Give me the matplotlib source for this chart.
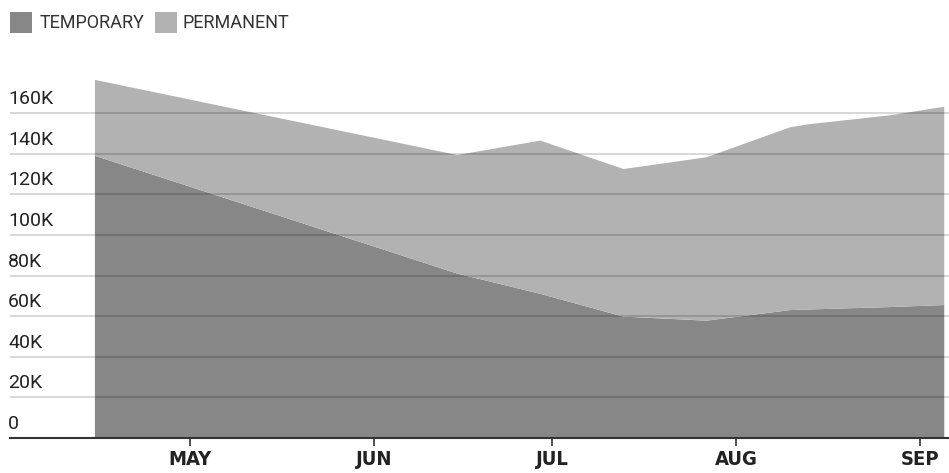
import matplotlib
matplotlib.use("Agg")
import matplotlib.pyplot as plt
import matplotlib.dates as mdates
import matplotlib.transforms as mtransforms
from matplotlib.patches import Rectangle
import numpy as np

# dates of the data points
dates = ["2020-04-15", "2020-06-15", "2020-06-29", "2020-07-13", "2020-07-27",
         "2020-08-10", "2020-08-13", "2020-08-27", "2020-09-05"]
# temporary layoffs
temporary = [139000, 81000, 71000, 59800, 57800, 63000, 63300, 64500, 65500]
# permanent layoffs (stacked on top of temporary)
permanent = [37400, 58400, 75500, 72700, 80500, 90000, 91200, 94500, 97700]

series_names = ["TEMPORARY", "PERMANENT"]
colors = ["#878787", "#b2b2b2"]

yticks = [0, 20000, 40000, 60000, 80000, 100000, 120000, 140000, 160000]
ytick_labels = ["0", "20K", "40K", "60K", "80K", "100K", "120K", "140K", "160K"]
month_ticks = ["2020-05-01", "2020-06-01", "2020-07-01", "2020-08-01", "2020-09-01"]
month_labels = ["MAY", "JUN", "JUL", "AUG", "SEP"]

x = mdates.datestr2num(dates)

W, H = 949, 473
fig = plt.figure(figsize=(W / 100, H / 100), dpi=100)
ax = fig.add_axes([10 / W, 35 / H, 939 / W, 378 / H])

ax.stackplot(x, temporary, permanent, colors=colors, linewidth=0, zorder=1)

# grid lines sit on top of the areas
for v in yticks[1:]:
    ax.axhline(v, color="black", alpha=0.17, linewidth=1.3, zorder=3)

ax.set_ylim(0, 186200)
ax.set_yticks([])
x0 = mdates.datestr2num("2020-05-01")
ax.set_xlim(x0 - 30.3, x0 + 127.8)

ax.set_xticks(mdates.datestr2num(month_ticks))
ax.set_xticklabels(month_labels, family="DejaVu Sans", fontstretch="condensed",
                   fontweight="bold", fontsize=14.5, color="#222222")
ax.tick_params(axis="x", length=6, width=1.2, color="#333333", pad=2.5)

for s in ["top", "right", "left"]:
    ax.spines[s].set_visible(False)
ax.spines["bottom"].set_color("#333333")
ax.spines["bottom"].set_linewidth(1.5)
ax.spines["bottom"].set_zorder(4)

# y labels sit just above their grid lines, at the left edge
trans = mtransforms.offset_copy(ax.get_yaxis_transform(), fig=fig, x=-2, y=5, units="dots")
for v, lab in zip(yticks, ytick_labels):
    ax.text(0, v, lab, transform=trans, ha="left", va="bottom",
            fontsize=14, family="Roboto", color="#222222")

# legend: squares and labels across the top
leg_x = [10, 155]
leg_text_x = [40, 183]
for lx, tx, c, name in zip(leg_x, leg_text_x, colors, series_names):
    fig.patches.append(Rectangle((lx / W, 1 - 33 / H), 22 / W, 21 / H,
                                 transform=fig.transFigure, facecolor=c,
                                 edgecolor="none"))
    fig.text(tx / W, 1 - 22.5 / H, name, ha="left", va="center",
             fontsize=13, family="Roboto", color="#333333")

fig.savefig("out.png", dpi=100)
